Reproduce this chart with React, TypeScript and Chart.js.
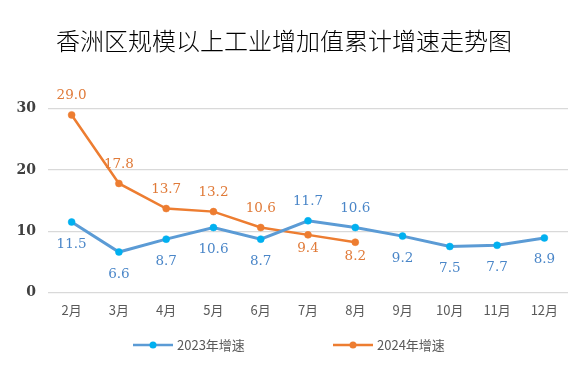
import React, { useEffect, useRef } from "react";
import { Chart, registerables } from "chart.js";

Chart.register(...registerables);

const months = ["2月", "3月", "4月", "5月", "6月", "7月", "8月", "9月", "10月", "11月", "12月"];
const growth2023 = [11.5, 6.6, 8.7, 10.6, 8.7, 11.7, 10.6, 9.2, 7.5, 7.7, 8.9];
const growth2024 = [29.0, 17.8, 13.7, 13.2, 10.6, 9.4, 8.2, null, null, null, null];
const labelPos2023 = ["below", "below", "below", "below", "below", "above", "above", "below", "below", "below", "below"];
const labelPos2024 = ["above", "above", "above", "above", "above", "below", "below", "below", "below", "below", "below"];
const yTicks = [0, 10, 20, 30];
const titleText = "香洲区规模以上工业增加值累计增速走势图";

const BLUE_LINE = "#5b9bd5";
const BLUE_POINT = "#00b0f0";
const BLUE_TEXT = "#4a86c8";
const ORANGE = "#ed7d31";
const ORANGE_TEXT = "#e07a38";

const labelPlugin = {
  id: "valueLabels",
  afterDatasetsDraw(chart: any) {
    const ctx = chart.ctx;
    ctx.save();
    ctx.font = "13.5px 'DejaVu Serif', serif";
    ctx.textAlign = "center";
    ctx.textBaseline = "middle";
    chart.data.datasets.forEach((ds: any, di: number) => {
      const meta = chart.getDatasetMeta(di);
      const pos = di === 0 ? labelPos2023 : labelPos2024;
      ctx.fillStyle = di === 0 ? BLUE_TEXT : ORANGE_TEXT;
      meta.data.forEach((pt: any, i: number) => {
        const v = ds.data[i];
        if (v === null || v === undefined) return;
        const above = pos[i] === "above";
        const off = above ? -19 : di === 0 ? 22 : 14;
        ctx.fillText(v.toFixed(1), pt.x, pt.y + off);
      });
    });
    ctx.restore();
  },
  afterDraw(chart: any) {
    const ctx = chart.ctx;
    ctx.save();
    const y = 345;
    const starts = [133, 333];
    chart.data.datasets.forEach((ds: any, di: number) => {
      const x0 = starts[di];
      ctx.strokeStyle = ds.borderColor;
      ctx.lineWidth = 2.5;
      ctx.beginPath();
      ctx.moveTo(x0, y);
      ctx.lineTo(x0 + 40, y);
      ctx.stroke();
      ctx.fillStyle = ds.pointBackgroundColor;
      ctx.beginPath();
      ctx.arc(x0 + 20, y, 3.5, 0, Math.PI * 2);
      ctx.fill();
      ctx.fillStyle = "#595959";
      ctx.font = "13px 'Noto Sans CJK SC', sans-serif";
      ctx.textAlign = "left";
      ctx.textBaseline = "middle";
      ctx.fillText(ds.label, x0 + 44, y);
    });
    ctx.restore();
  },
};

export default function App() {
  const ref = useRef<HTMLCanvasElement>(null);
  useEffect(() => {
    document.body.style.margin = "0";
    const chart = new Chart(ref.current!, {
      type: "line",
      data: {
        labels: months,
        datasets: [
          {
            label: "2023年增速",
            data: growth2023,
            borderColor: BLUE_LINE,
            backgroundColor: BLUE_LINE,
            pointBackgroundColor: BLUE_POINT,
            pointBorderColor: BLUE_POINT,
            pointRadius: 3.5,
            pointBorderWidth: 0.5,
            borderWidth: 3,
            tension: 0,
          },
          {
            label: "2024年增速",
            data: growth2024,
            borderColor: ORANGE,
            backgroundColor: ORANGE,
            pointBackgroundColor: ORANGE,
            pointBorderColor: ORANGE,
            pointRadius: 3.5,
            pointBorderWidth: 0.5,
            borderWidth: 2.5,
            tension: 0,
          },
        ],
      },
      options: {
        animation: false,
        responsive: true,
        maintainAspectRatio: false,
        layout: { padding: { left: 0, right: 15, bottom: 45, top: 0 } },
        plugins: {
          legend: { display: false },
          tooltip: { enabled: false },
          title: {
            display: true,
            text: titleText,
            color: "#000",
            font: { size: 24, family: "'Noto Sans CJK SC', serif", weight: "300" },
            padding: { top: 26, bottom: 54 },
          },
        },
        scales: {
          x: {
            offset: true,
            grid: { display: false, drawTicks: false },
            border: { display: false },
            ticks: {
              color: "#595959",
              font: { size: 13, family: "'Noto Sans CJK SC', sans-serif" },
              padding: 10,
              maxRotation: 0,
              autoSkip: false,
            },
          },
          y: {
            min: 0,
            max: 30,
            afterBuildTicks: (s: any) => {
              s.ticks = yTicks.map((v) => ({ value: v }));
            },
            afterFit: (s: any) => {
              s.width = 48;
            },
            grid: { color: "#d9d9d9", drawTicks: false, lineWidth: 1.2 },
            border: { display: false },
            ticks: {
              color: "#404040",
              font: { size: 14, family: "'DejaVu Serif', serif", weight: "bold" },
              padding: 12,
            },
          },
        },
      },
      plugins: [labelPlugin],
    });
    return () => chart.destroy();
  }, []);
  return (
    <div style={{ position: "absolute", left: 0, top: 0, width: 583, height: 373 }}>
      <canvas ref={ref} />
    </div>
  );
}
